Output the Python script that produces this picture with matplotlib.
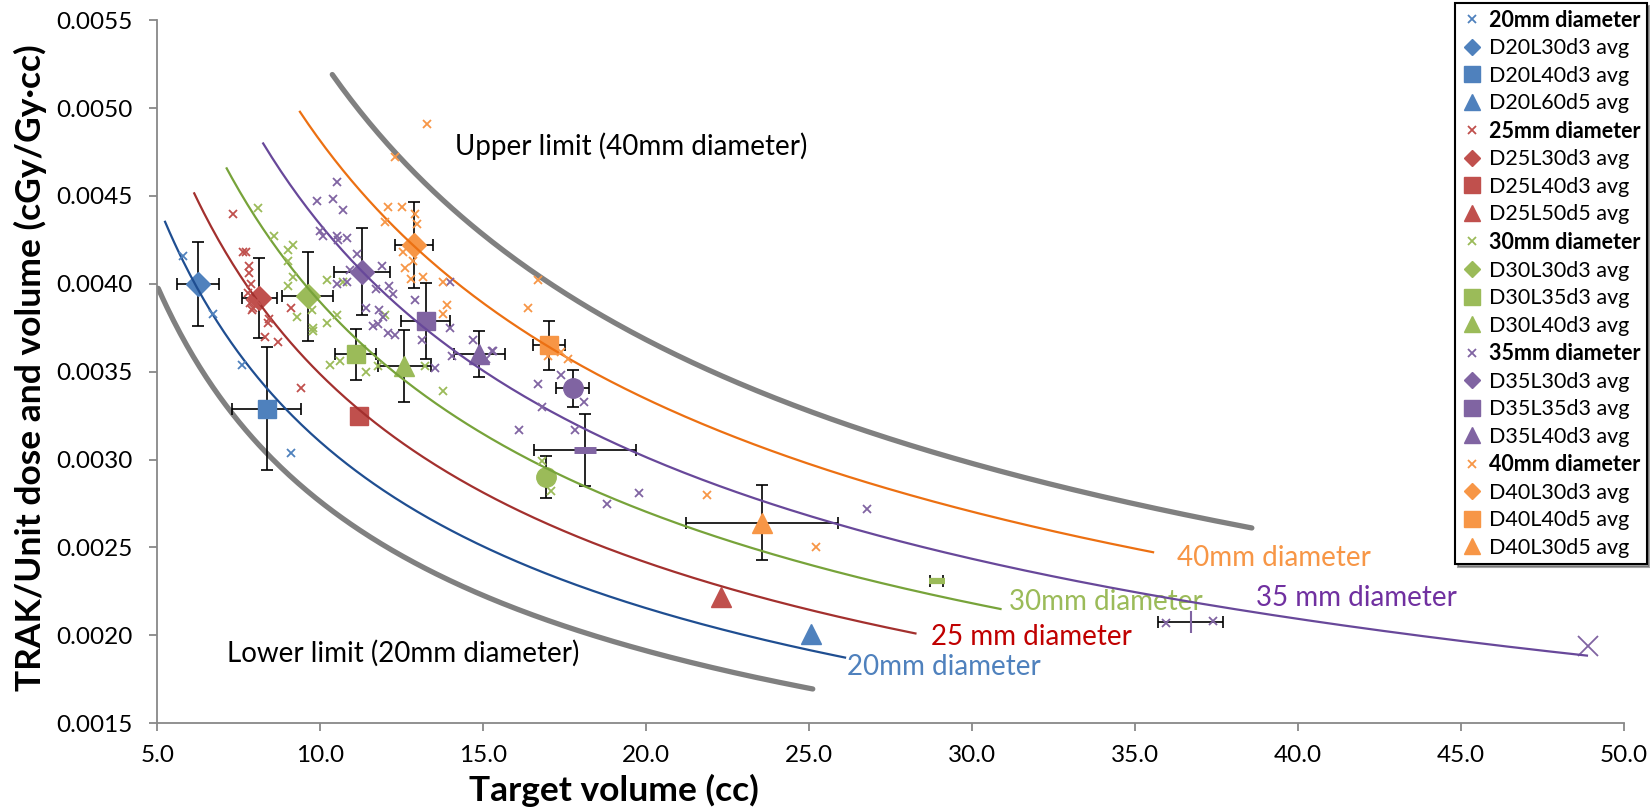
import matplotlib.pyplot as plt
import numpy as np

plt.rcParams['font.family'] = ['Lato', 'DejaVu Sans']

# measured points per cylinder diameter (target volume cc, TRAK per unit dose and volume)
d20_x = [5.78, 6.72, 7.61, 9.10]
d20_y = [0.00416, 0.00383, 0.00354, 0.00304]

d25_x = [7.31, 7.64, 7.72, 7.81, 7.81, 7.88, 7.79, 7.86, 7.90, 8.05, 7.95, 8.44,
         8.41, 8.30, 8.71, 9.10, 9.41]
d25_y = [0.00440, 0.00418, 0.00418, 0.00410, 0.00406, 0.00400, 0.00395, 0.00389,
         0.00385, 0.00390, 0.00386, 0.00380, 0.00378, 0.00370, 0.00367, 0.00386, 0.00341]

d30_x = [8.10, 8.58, 9.17, 9.02, 9.02, 9.17, 9.02, 10.20, 10.71, 9.74, 9.29, 9.79,
         9.79, 10.20, 10.50, 10.30, 10.60, 11.39, 11.78, 11.98, 13.21, 13.77, 16.79, 17.08]
d30_y = [0.00443, 0.00427, 0.00422, 0.00419, 0.00413, 0.00404, 0.00399, 0.00402,
         0.00401, 0.00385, 0.00381, 0.00375, 0.00373, 0.00378, 0.00382, 0.00354,
         0.00356, 0.00350, 0.00353, 0.00382, 0.00353, 0.00339, 0.00299, 0.00282]

d35_x = [10.50, 9.89, 10.40, 10.71, 9.99, 10.09, 10.50, 10.55, 10.81, 11.12, 10.91,
         10.50, 10.81, 11.90, 11.71, 12.12, 12.22, 11.40, 11.81, 11.93, 11.63, 11.78,
         12.09, 12.29, 12.90, 13.11, 13.98, 13.52, 13.98, 14.03, 14.69, 15.26, 15.31,
         15.10, 16.69, 17.40, 18.08, 16.79, 16.10, 17.81, 18.79, 19.79, 26.76, 35.96, 37.39]
d35_y = [0.00458, 0.00447, 0.00448, 0.00442, 0.00430, 0.00427, 0.00427, 0.00425,
         0.00426, 0.00417, 0.00408, 0.00400, 0.00401, 0.00410, 0.00397, 0.00399,
         0.00394, 0.00386, 0.00385, 0.00381, 0.00376, 0.00377, 0.00372, 0.00371,
         0.00391, 0.00368, 0.00401, 0.00352, 0.00375, 0.00359, 0.00368, 0.00362,
         0.00362, 0.00357, 0.00343, 0.00348, 0.00333, 0.00330, 0.00317, 0.00317,
         0.00275, 0.00281, 0.00272, 0.00207, 0.00208]

d40_x = [13.29, 12.29, 12.09, 12.50, 12.90, 11.98, 12.98, 12.55, 12.85, 12.60, 12.80,
         13.16, 13.77, 13.88, 13.77, 16.69, 16.38, 17.00, 17.61, 17.40, 21.88, 25.20]
d40_y = [0.00491, 0.00472, 0.00444, 0.00444, 0.00440, 0.00435, 0.00434, 0.00418,
         0.00413, 0.00409, 0.00403, 0.00404, 0.00401, 0.00388, 0.00383, 0.00402,
         0.00386, 0.00359, 0.00357, 0.00361, 0.00280, 0.00250]

# averaged configurations with standard deviations
avg_names = ['D20L30d3 avg', 'D20L40d3 avg', 'D20L60d5 avg',
             'D25L30d3 avg', 'D25L40d3 avg', 'D25L50d5 avg',
             'D30L30d3 avg', 'D30L35d3 avg', 'D30L40d3 avg',
             'D35L30d3 avg', 'D35L35d3 avg', 'D35L40d3 avg',
             'D40L30d3 avg', 'D40L40d5 avg', 'D40L30d5 avg']
avg_x = [6.26, 8.36, 25.05, 8.13, 11.20, 22.29, 9.61, 11.09, 12.58,
         11.27, 13.23, 14.88, 12.88, 17.02, 23.54]
avg_y = [0.00400, 0.00329, 0.00201, 0.00392, 0.00325, 0.00222, 0.00393, 0.00360,
         0.00353, 0.00407, 0.00379, 0.00360, 0.00422, 0.00365, 0.00264]
avg_xerr = [0.64, 1.06, None, 0.54, None, None, 0.77, 0.63, 0.82,
            0.86, 0.74, 0.79, 0.58, 0.49, 2.33]
avg_yerr = [0.000237, 0.000351, None, 0.000229, None, None, 0.000253, 0.000145,
            0.000205, 0.000249, 0.000215, 0.000131, 0.000246, 0.000140, 0.000213]

# further averaged points without legend entry
ext_x = [17.74, 16.94, 18.12, 28.91, 36.70, 48.88]
ext_y = [0.003405, 0.002903, 0.003055, 0.002311, 0.002074, 0.00194]
ext_xerr = [0.50, None, 1.57, 0.20, 0.99, None]
ext_yerr = [0.000104, 0.00012, 0.000205, None, None, None]

# power law trend lines y = a * x**b
trend_a = [0.010386, 0.011798, 0.013123, 0.014543, 0.016128]
trend_b = [-0.525, -0.5295, -0.5274, -0.5254, -0.5251]
trend_x0 = [5.24, 6.135, 7.13, 8.25, 9.377]
trend_x1 = [26.1, 28.26, 30.87, 48.86, 35.55]
limit_a = [0.009356, 0.01764]
limit_b = [-0.530, -0.523]
limit_x0 = [5.03, 10.37]
limit_x1 = [25.11, 38.58]

curve_names = ['20mm diameter', '25 mm diameter', '30mm diameter',
               '35 mm diameter', '40mm diameter']
legend_diam = ['20mm diameter', '25mm diameter', '30mm diameter',
               '35mm diameter', '40mm diameter']

mk_col = ['#4F81BD', '#C0504D', '#9BBB59', '#8064A2', '#F79646']
line_col = ['#1F4E91', '#A3302E', '#77A33A', '#68489A', '#EC7012']
txt_col = ['#4F81BD', '#C00000', '#9BBB59', '#7030A0', '#F79646']
txt_pos = [(26.16, 0.00182), (28.75, 0.00199), (31.13, 0.00219),
           (38.72, 0.00221), (36.27, 0.00244)]

fig = plt.figure(figsize=(16.5, 8.09), dpi=100)
ax = fig.add_axes([0.0953, 0.106, 0.889, 0.869])

ebkw = dict(fmt='none', ecolor='black', elinewidth=1.2, capsize=4.5, capthick=1.2, zorder=3)

for k in range(2):
    xs = np.linspace(limit_x0[k], limit_x1[k], 300)
    ax.plot(xs, limit_a[k] * xs ** limit_b[k], color='#808080', lw=3.8,
            solid_capstyle='round', zorder=2)

for k in range(5):
    xs = np.linspace(trend_x0[k], trend_x1[k], 300)
    ax.plot(xs, trend_a[k] * xs ** trend_b[k], color=line_col[k], lw=1.6, zorder=5)
    ax.text(txt_pos[k][0], txt_pos[k][1], curve_names[k], color=txt_col[k],
            fontsize=20, ha='left', va='center')

ax.text(14.13, 0.004784, 'Upper limit (40mm diameter)', fontsize=20, ha='left', va='center')
ax.text(7.13, 0.00190, 'Lower limit (20mm diameter)', fontsize=20, ha='left', va='center')

raw = [(d20_x, d20_y), (d25_x, d25_y), (d30_x, d30_y), (d35_x, d35_y), (d40_x, d40_y)]
shapes = ['D', 's', '^']
shape_ms = {'D': 12, 's': 13.5, '^': 14}
handles = []
for k in range(5):
    h, = ax.plot(raw[k][0], raw[k][1], 'x', color=mk_col[k], ms=6, mew=1.3,
                 label=legend_diam[k], zorder=6)
    handles.append(h)
    for j in range(3):
        i = 3 * k + j
        if avg_xerr[i] is not None or avg_yerr[i] is not None:
            ax.errorbar(avg_x[i], avg_y[i], xerr=avg_xerr[i], yerr=avg_yerr[i], **ebkw)
        m, = ax.plot(avg_x[i], avg_y[i], shapes[j], color=mk_col[k], ms=shape_ms[shapes[j]],
                     mec=mk_col[k], label=avg_names[i], zorder=4)
        handles.append(m)

ext_mk = ['o', 'o', '_', '_', '|', 'x']
ext_col = [mk_col[3], mk_col[2], mk_col[3], mk_col[2], mk_col[3], mk_col[3]]
ext_ms = [14, 14, 16, 11, 16, 15]
ext_mew = [1, 1, 5, 4.5, 1.5, 1.3]
for i in range(len(ext_x)):
    if ext_xerr[i] is not None or ext_yerr[i] is not None:
        ax.errorbar(ext_x[i], ext_y[i], xerr=ext_xerr[i], yerr=ext_yerr[i], **ebkw)
    ax.plot(ext_x[i], ext_y[i], ext_mk[i], color=ext_col[i], ms=ext_ms[i],
            mew=ext_mew[i], zorder=4)

ax.set_xlim(5, 50)
ax.set_ylim(0.0015, 0.0055)
ax.set_xticks(np.arange(5, 50.1, 5))
ax.set_yticks(np.arange(0.0015, 0.00551, 0.0005))
ax.set_xticklabels(['%.1f' % v for v in np.arange(5, 50.1, 5)])
ax.set_yticklabels(['%.4f' % v for v in np.arange(0.0015, 0.00551, 0.0005)])
for s in ['top', 'right']:
    ax.spines[s].set_visible(False)
for s in ['left', 'bottom']:
    ax.spines[s].set_color('#888888')
    ax.spines[s].set_linewidth(1.3)
ax.tick_params(length=6, width=1.3, color='#888888', labelsize=17.5)
ax.tick_params(axis='y', pad=12)
ax.tick_params(axis='x', pad=10)

ax.set_xlabel('Target volume (cc)', fontsize=25.5, fontweight='bold')
ax.xaxis.set_label_coords(0.311, -0.072)
ax.set_ylabel('TRAK/Unit dose and volume (cGy/Gy\u00b7cc)', fontsize=25.5, fontweight='bold')
ax.yaxis.set_label_coords(-0.075, 0.506)

leg = fig.legend(handles=handles, loc='upper right', bbox_to_anchor=(0.998, 0.996),
                 fontsize=15.5, frameon=True, fancybox=False, shadow=True,
                 handlelength=0.9, handletextpad=0.35, labelspacing=0.35,
                 borderpad=0.3, borderaxespad=0)
leg.get_frame().set_edgecolor('black')
leg.get_frame().set_linewidth(1.5)
for t in leg.get_texts():
    if t.get_text().endswith('diameter'):
        t.set_fontweight('bold')
for h in leg.legend_handles:
    mk = h.get_marker()
    h.set_markersize({'x': 6, 'D': 8, 's': 11, '^': 11}[mk])

fig.savefig('out.png', dpi=100)
